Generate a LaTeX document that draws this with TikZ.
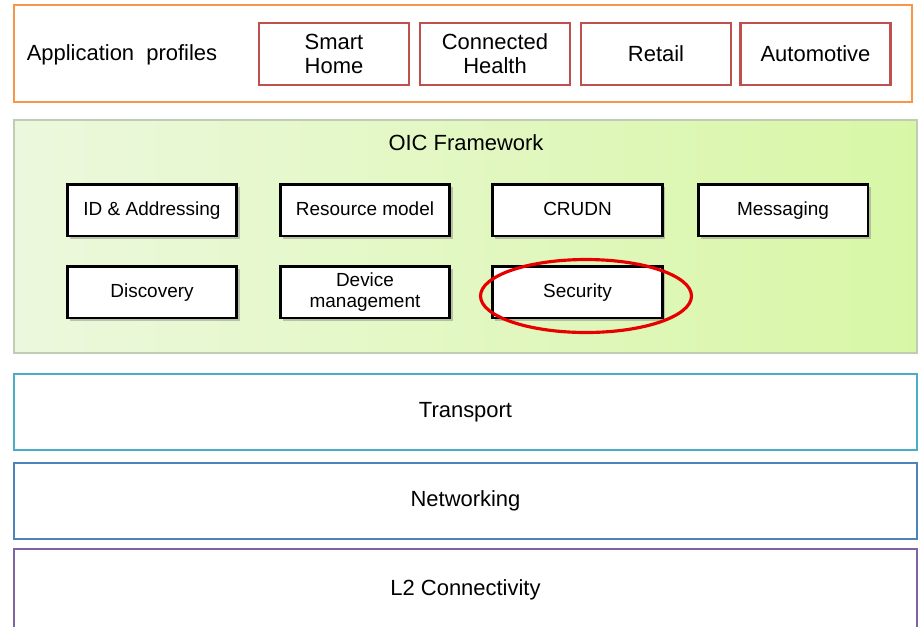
\documentclass[tikz,border=0pt]{standalone}
\usepackage{fontspec}
\setmainfont{Liberation Sans}
\usepackage{xcolor}
\usepackage{tikz}
\usetikzlibrary{shadows,shapes.geometric}
\definecolor{cor}{RGB}{247,150,70}
\definecolor{crd}{RGB}{192,80,77}
\definecolor{ctl}{RGB}{75,172,198}
\definecolor{cbl}{RGB}{79,129,189}
\definecolor{cpu}{RGB}{128,100,162}
\definecolor{cgl}{RGB}{236,248,221}
\definecolor{cgr}{RGB}{216,247,166}
\definecolor{cgb}{RGB}{192,204,182}
\definecolor{chl}{RGB}{230,0,0}

\begin{document}
\begin{tikzpicture}[
  x=0.02cm,y=-0.02cm,
  font=\fontsize{12.5}{13.5}\selectfont,
  layer/.style={draw,line width=1.5pt,minimum width=18.06cm,minimum height=1.52cm,inner sep=0pt},
  prof/.style={draw=crd,line width=1.3pt,fill=white,align=center,minimum width=3.0cm,minimum height=1.24cm,inner sep=2pt},
  part/.style={draw=black,line width=1.7pt,fill=white,align=center,minimum width=3.4cm,minimum height=1.04cm,inner sep=2pt,
    text height=1.6ex,text depth=0.5ex,font=\fontsize{10.8}{12}\selectfont,
    drop shadow={opacity=0.45,shadow xshift=1.5pt,shadow yshift=-1.5pt}},
  hilite/.style={ellipse,draw=chl,line width=1.8pt,minimum width=4.22cm,minimum height=1.46cm}
]
\useasboundingbox (0,0) rectangle (919,626);
% application profiles
\node[layer,draw=cor,minimum width=17.96cm,minimum height=1.94cm] (app) at (463,53.5) {};
\node (apptxt) at (122,55) {Application\ \ profiles};
\node[prof] (home) at (334,54) {Smart\\Home};
\node[prof] (health) at (495,54) {Connected\\Health};
\node[prof] (retail) at (656,54) {Retail};
\node[prof] (auto) at (815.5,54) {Automotive};
% framework
\node[layer,draw=cgb,line width=1pt,left color=cgl,right color=cgr,minimum height=4.66cm] (oic) at (465.5,236.5) {};
\node (oictxt) at (466,143) {OIC Framework};
\node[part] (idad) at (152,210) {ID \& Addressing};
\node[part] (resm) at (365,210) {Resource model};
\node[part] (crudn) at (577.5,210) {CRUDN};
\node[part] (msg) at (783,210) {Messaging};
\node[part] (disc) at (152,292) {Discovery};
\node[part,text height={},text depth={}] (devm) at (365,292) {Device\\management};
\node[part] (sec) at (577.5,292) {Security};
\node[hilite] (mark) at (586,296) {};
% lower layers
\node[layer,draw=ctl] (trans) at (465.5,412) {Transport};
\node[layer,draw=cbl] (net) at (465.5,501) {Networking};
\node[layer,draw=cpu,minimum height=1.82cm] (l2) at (465.5,594.5) {};
\node (l2txt) at (465.5,590) {L2 Connectivity};
\end{tikzpicture}
\end{document}
